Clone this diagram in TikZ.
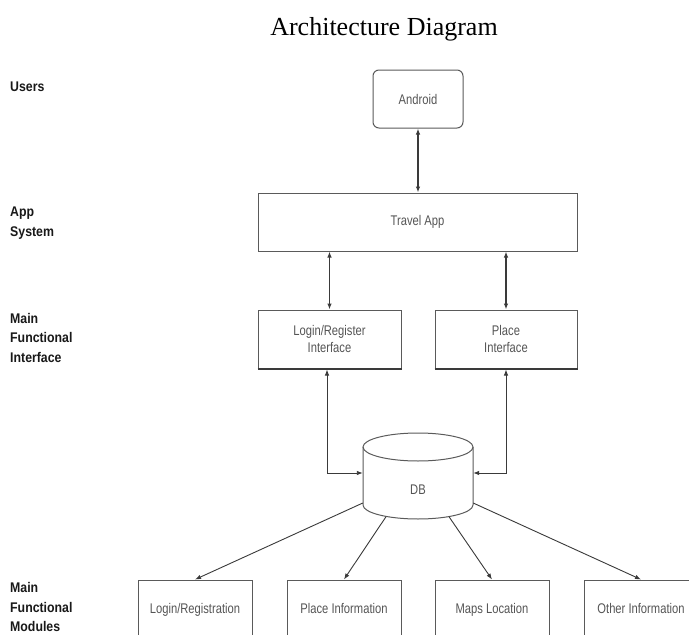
\documentclass[tikz,border=0pt]{standalone}
\usepackage{fontspec}
\setmainfont{Liberation Serif}
\newfontfamily\boxfont[FakeStretch=0.8]{Liberation Sans}
\newfontfamily\labfont[FakeStretch=0.88]{Liberation Sans Bold}
\usetikzlibrary{arrows.meta}
\definecolor{edgecol}{HTML}{5A5A5A}
\definecolor{boxtxt}{HTML}{555555}
\definecolor{linkcol}{HTML}{3A3A3A}
\begin{document}
\begin{tikzpicture}[x=1pt,y=-1pt,
  boxn/.style={draw=edgecol, line width=1pt, text=boxtxt,
    font=\boxfont\fontsize{14}{17}\selectfont, align=center,
    inner sep=0pt, minimum height=58pt},
  modbox/.style={boxn, minimum width=114pt, minimum height=60pt,
    text height=10pt, text depth=3pt},
  layerlabel/.style={font=\labfont\fontsize{14}{19.5}\selectfont, align=left,
    inner sep=0pt, anchor=west, text=black!90},
  link/.style={draw=linkcol, line width=1.1pt,
    {Latex[length=6pt,width=4.5pt]}-{Latex[length=6pt,width=4.5pt]}},
  oneway/.style={draw=linkcol, line width=0.9pt,
    -{Latex[length=6pt,width=4.5pt]}},
  cyl/.style={draw=edgecol, line width=1pt},
  basebar/.style={draw=linkcol, line width=2pt}]
\useasboundingbox (0,0) rectangle (689,635);
\clip (0,0) rectangle (689,635);
\fill[white] (0,0) rectangle (689,635);

% title
\node[font=\fontsize{26}{30}\selectfont, anchor=base, inner sep=0pt] (title) at (384,35) {Architecture Diagram};

% layer labels
\node[layerlabel, anchor=base west] (lusers) at (10,91) {Users};
\node[layerlabel] (lapp) at (10,223) {App\\System};
\node[layerlabel] (lmfi) at (10,337.5) {Main\\Functional\\Interface};
\node[layerlabel] (lmfm) at (10,607) {Main\\Functional\\Modules};

% boxes
\node[boxn, rounded corners=6pt, minimum width=90pt] (android) at (418,99) {Android};
\node[boxn, minimum width=319pt] (travel) at (417.5,222) {Travel App};
\node[boxn, minimum width=143pt] (login) at (329.5,339) {Login/Register\\Interface};
\node[boxn, minimum width=142pt] (place) at (506,339) {Place\\Interface};
\draw[basebar] (login.south west) -- (login.south east);
\draw[basebar] (place.south west) -- (place.south east);

% database cylinder
\draw[cyl] (418,447) ellipse [x radius=55, y radius=14];
\draw[cyl] (363,447) -- (363,505) .. controls (363,512.7) and (387.6,519) .. (418,519)
  .. controls (448.4,519) and (473,512.7) .. (473,505) -- (473,447);
\node[text=boxtxt, font=\boxfont\fontsize{14}{17}\selectfont, inner sep=0pt,
  minimum width=110pt, minimum height=58pt] (db) at (418,490) {DB};

% modules
\node[modbox] (m1) at (195,610) {Login/Registration};
\node[modbox] (m2) at (344,610) {Place Information};
\node[modbox] (m3) at (492,610) {Maps Location};
\node[modbox] (m4) at (641,610) {Other Information};

% connectors
\draw[link] (android.south) -- (android.south |- travel.north);
\draw[link] (login.north |- travel.south) -- (login.north);
\draw[link] (place.north |- travel.south) -- (place.north);
\draw[link, line width=0.9pt] ([xshift=-2.5pt,yshift=-1pt]login.south) |- ([yshift=17pt]db.west);
\draw[link, line width=0.9pt] ([yshift=-1pt]place.south) |- ([yshift=17pt]db.east);
\draw[oneway] ([yshift=-13pt]db.west) -- (m1.north);
\draw[oneway] ([xshift=-32pt,yshift=2.5pt]db.south) -- (m2.north);
\draw[oneway] ([xshift=31pt,yshift=2.5pt]db.south) -- (m3.north);
\draw[oneway] ([yshift=-13pt]db.east) -- (m4.north);
\end{tikzpicture}
\end{document}
